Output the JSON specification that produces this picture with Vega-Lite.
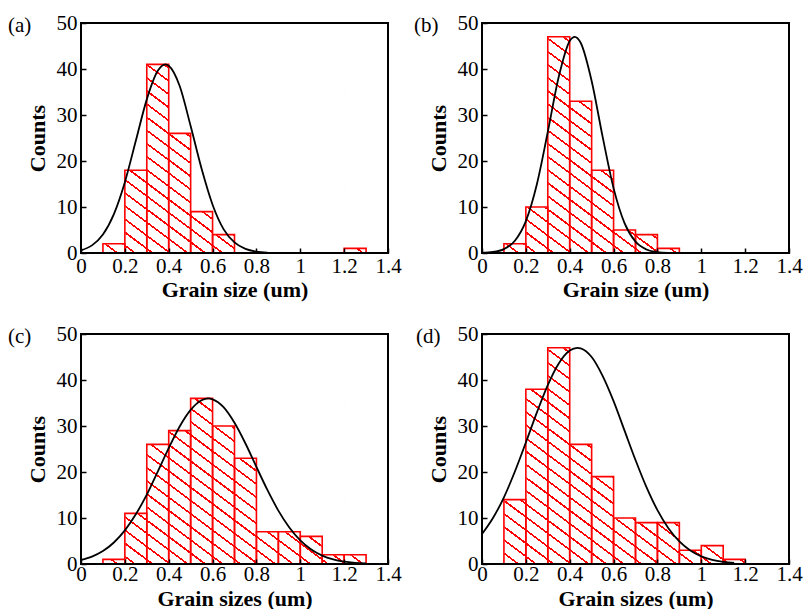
{
  "$schema": "https://vega.github.io/schema/vega-lite/v6.json",
  "background": "white",
  "padding": {"left": 8, "top": 12, "right": 2, "bottom": 0},
  "columns": 2,
  "spacing": {"row": 81, "column": 94},
  "bounds": "flush",
  "datasets": {
    "bins": [
      {"panel": "a", "x0": 0, "x1": 0.1, "count": 0}, {"panel": "a", "x0": 0.1, "x1": 0.2, "count": 2}, {"panel": "a", "x0": 0.2, "x1": 0.3, "count": 18}, {"panel": "a", "x0": 0.3, "x1": 0.4, "count": 41}, {"panel": "a", "x0": 0.4, "x1": 0.5, "count": 26}, {"panel": "a", "x0": 0.5, "x1": 0.6, "count": 9}, {"panel": "a", "x0": 0.6, "x1": 0.7, "count": 4}, {"panel": "a", "x0": 0.7, "x1": 0.8, "count": 0}, {"panel": "a", "x0": 0.8, "x1": 0.9, "count": 0}, {"panel": "a", "x0": 0.9, "x1": 1, "count": 0}, {"panel": "a", "x0": 1, "x1": 1.1, "count": 0}, {"panel": "a", "x0": 1.1, "x1": 1.2, "count": 0}, {"panel": "a", "x0": 1.2, "x1": 1.3, "count": 1}, {"panel": "a", "x0": 1.3, "x1": 1.4, "count": 0},
      {"panel": "b", "x0": 0, "x1": 0.1, "count": 0}, {"panel": "b", "x0": 0.1, "x1": 0.2, "count": 2}, {"panel": "b", "x0": 0.2, "x1": 0.3, "count": 10}, {"panel": "b", "x0": 0.3, "x1": 0.4, "count": 47}, {"panel": "b", "x0": 0.4, "x1": 0.5, "count": 33}, {"panel": "b", "x0": 0.5, "x1": 0.6, "count": 18}, {"panel": "b", "x0": 0.6, "x1": 0.7, "count": 5}, {"panel": "b", "x0": 0.7, "x1": 0.8, "count": 4}, {"panel": "b", "x0": 0.8, "x1": 0.9, "count": 1}, {"panel": "b", "x0": 0.9, "x1": 1, "count": 0}, {"panel": "b", "x0": 1, "x1": 1.1, "count": 0}, {"panel": "b", "x0": 1.1, "x1": 1.2, "count": 0}, {"panel": "b", "x0": 1.2, "x1": 1.3, "count": 0}, {"panel": "b", "x0": 1.3, "x1": 1.4, "count": 0},
      {"panel": "c", "x0": 0, "x1": 0.1, "count": 0}, {"panel": "c", "x0": 0.1, "x1": 0.2, "count": 1}, {"panel": "c", "x0": 0.2, "x1": 0.3, "count": 11}, {"panel": "c", "x0": 0.3, "x1": 0.4, "count": 26}, {"panel": "c", "x0": 0.4, "x1": 0.5, "count": 29}, {"panel": "c", "x0": 0.5, "x1": 0.6, "count": 36}, {"panel": "c", "x0": 0.6, "x1": 0.7, "count": 30}, {"panel": "c", "x0": 0.7, "x1": 0.8, "count": 23}, {"panel": "c", "x0": 0.8, "x1": 0.9, "count": 7}, {"panel": "c", "x0": 0.9, "x1": 1, "count": 7}, {"panel": "c", "x0": 1, "x1": 1.1, "count": 6}, {"panel": "c", "x0": 1.1, "x1": 1.2, "count": 2}, {"panel": "c", "x0": 1.2, "x1": 1.3, "count": 2}, {"panel": "c", "x0": 1.3, "x1": 1.4, "count": 0},
      {"panel": "d", "x0": 0, "x1": 0.1, "count": 0}, {"panel": "d", "x0": 0.1, "x1": 0.2, "count": 14}, {"panel": "d", "x0": 0.2, "x1": 0.3, "count": 38}, {"panel": "d", "x0": 0.3, "x1": 0.4, "count": 47}, {"panel": "d", "x0": 0.4, "x1": 0.5, "count": 26}, {"panel": "d", "x0": 0.5, "x1": 0.6, "count": 19}, {"panel": "d", "x0": 0.6, "x1": 0.7, "count": 10}, {"panel": "d", "x0": 0.7, "x1": 0.8, "count": 9}, {"panel": "d", "x0": 0.8, "x1": 0.9, "count": 9}, {"panel": "d", "x0": 0.9, "x1": 1, "count": 3}, {"panel": "d", "x0": 1, "x1": 1.1, "count": 4}, {"panel": "d", "x0": 1.1, "x1": 1.2, "count": 1}, {"panel": "d", "x0": 1.2, "x1": 1.3, "count": 0}, {"panel": "d", "x0": 1.3, "x1": 1.4, "count": 0}
    ],
    "curves": [
      {"panel": "a", "x": 0, "y": 0.59}, {"panel": "a", "x": 0.05, "y": 1.66}, {"panel": "a", "x": 0.1, "y": 4.03}, {"panel": "a", "x": 0.15, "y": 8.46}, {"panel": "a", "x": 0.2, "y": 15.4}, {"panel": "a", "x": 0.25, "y": 24.4}, {"panel": "a", "x": 0.3, "y": 33.4}, {"panel": "a", "x": 0.35, "y": 39.6}, {"panel": "a", "x": 0.385, "y": 41}, {"panel": "a", "x": 0.4, "y": 40.7}, {"panel": "a", "x": 0.45, "y": 36.3}, {"panel": "a", "x": 0.5, "y": 27.6}, {"panel": "a", "x": 0.55, "y": 18.3}, {"panel": "a", "x": 0.6, "y": 10.5}, {"panel": "a", "x": 0.65, "y": 5.2}, {"panel": "a", "x": 0.7, "y": 2.3}, {"panel": "a", "x": 0.75, "y": 0.9}, {"panel": "a", "x": 0.8, "y": 0.3}, {"panel": "a", "x": 0.85, "y": 0.08},
      {"panel": "b", "x": 0, "y": 0.05}, {"panel": "b", "x": 0.05, "y": 0.22}, {"panel": "b", "x": 0.1, "y": 0.85}, {"panel": "b", "x": 0.15, "y": 2.67}, {"panel": "b", "x": 0.2, "y": 6.94}, {"panel": "b", "x": 0.25, "y": 14.9}, {"panel": "b", "x": 0.3, "y": 26.3}, {"panel": "b", "x": 0.35, "y": 38.3}, {"panel": "b", "x": 0.4, "y": 46.1}, {"panel": "b", "x": 0.423, "y": 47}, {"panel": "b", "x": 0.45, "y": 45.7}, {"panel": "b", "x": 0.5, "y": 37.4}, {"panel": "b", "x": 0.55, "y": 25.3}, {"panel": "b", "x": 0.6, "y": 14.1}, {"panel": "b", "x": 0.65, "y": 6.48}, {"panel": "b", "x": 0.7, "y": 2.46}, {"panel": "b", "x": 0.75, "y": 0.77}, {"panel": "b", "x": 0.8, "y": 0.2}, {"panel": "b", "x": 0.85, "y": 0.04},
      {"panel": "c", "x": 0, "y": 0.88}, {"panel": "c", "x": 0.05, "y": 1.62}, {"panel": "c", "x": 0.1, "y": 2.82}, {"panel": "c", "x": 0.15, "y": 4.67}, {"panel": "c", "x": 0.2, "y": 7.3}, {"panel": "c", "x": 0.25, "y": 10.8}, {"panel": "c", "x": 0.3, "y": 15.1}, {"panel": "c", "x": 0.35, "y": 20.1}, {"panel": "c", "x": 0.4, "y": 25.2}, {"panel": "c", "x": 0.45, "y": 29.9}, {"panel": "c", "x": 0.5, "y": 33.5}, {"panel": "c", "x": 0.55, "y": 35.6}, {"panel": "c", "x": 0.58, "y": 36}, {"panel": "c", "x": 0.6, "y": 35.8}, {"panel": "c", "x": 0.65, "y": 34.1}, {"panel": "c", "x": 0.7, "y": 30.7}, {"panel": "c", "x": 0.75, "y": 26.2}, {"panel": "c", "x": 0.8, "y": 21.1}, {"panel": "c", "x": 0.85, "y": 16.1}, {"panel": "c", "x": 0.9, "y": 11.6}, {"panel": "c", "x": 0.95, "y": 7.93}, {"panel": "c", "x": 1, "y": 5.13}, {"panel": "c", "x": 1.05, "y": 3.14}, {"panel": "c", "x": 1.1, "y": 1.81}, {"panel": "c", "x": 1.15, "y": 0.99}, {"panel": "c", "x": 1.2, "y": 0.51}, {"panel": "c", "x": 1.25, "y": 0.25}, {"panel": "c", "x": 1.3, "y": 0.12},
      {"panel": "d", "x": 0, "y": 6.51}, {"panel": "d", "x": 0.05, "y": 9.99}, {"panel": "d", "x": 0.1, "y": 14.5}, {"panel": "d", "x": 0.15, "y": 20.1}, {"panel": "d", "x": 0.2, "y": 26.4}, {"panel": "d", "x": 0.25, "y": 32.9}, {"panel": "d", "x": 0.3, "y": 38.9}, {"panel": "d", "x": 0.35, "y": 43.6}, {"panel": "d", "x": 0.4, "y": 46.4}, {"panel": "d", "x": 0.435, "y": 47}, {"panel": "d", "x": 0.45, "y": 46.9}, {"panel": "d", "x": 0.5, "y": 45}, {"panel": "d", "x": 0.55, "y": 40.9}, {"panel": "d", "x": 0.6, "y": 35.4}, {"panel": "d", "x": 0.65, "y": 29}, {"panel": "d", "x": 0.7, "y": 22.6}, {"panel": "d", "x": 0.75, "y": 16.7}, {"panel": "d", "x": 0.8, "y": 11.7}, {"panel": "d", "x": 0.85, "y": 7.77}, {"panel": "d", "x": 0.9, "y": 4.91}, {"panel": "d", "x": 0.95, "y": 2.94}, {"panel": "d", "x": 1, "y": 1.67}, {"panel": "d", "x": 1.05, "y": 0.9}, {"panel": "d", "x": 1.1, "y": 0.46}, {"panel": "d", "x": 1.15, "y": 0.23}
    ]
  },
  "concat": [
    {
      "width": 307, "height": 230,
      "title": {"text": "(a)", "dx": -73},
      "layer": [
        {"data": {"values": [{}]}, "mark": {"type": "rect"},
         "encoding": {
           "x": {"datum": 0, "type": "quantitative", "scale": {"domain": [0, 1.4], "nice": false}, "axis": {"title": "Grain size (um)", "zindex": 2, "labelPadding": 7, "titlePadding": 3, "values": [0, 0.1, 0.2, 0.3, 0.4, 0.5, 0.6, 0.7, 0.8, 0.9, 1, 1.1, 1.2, 1.3, 1.4], "labelExpr": "round(datum.value * 10) % 2 === 0 ? '' + datum.value : ''", "tickSize": {"condition": {"test": "round(datum.value * 10) % 2 === 0", "value": -5}, "value": -3}}},
           "x2": {"datum": 1.4},
           "y": {"datum": 0, "type": "quantitative", "scale": {"domain": [0, 50], "nice": false}, "axis": {"title": "Counts", "zindex": 2, "values": [0, 5, 10, 15, 20, 25, 30, 35, 40, 45, 50], "labelExpr": "datum.value % 10 === 0 ? '' + datum.value : ''", "tickSize": {"condition": {"test": "datum.value % 10 === 0", "value": -5}, "value": -3}}},
           "y2": {"datum": 50}
         }},
        {"data": {"name": "bins"}, "transform": [{"filter": "datum.panel === 'a'"}], "mark": {"type": "rect", "fill": "white", "stroke": "white", "strokeWidth": 1},
         "encoding": {"x": {"field": "x0", "type": "quantitative"}, "x2": {"field": "x1"}, "y": {"field": "count", "type": "quantitative"}, "y2": {"datum": 50}}},
        {"data": {"name": "bins"}, "transform": [{"filter": "datum.panel === 'a' && datum.count > 0"}], "mark": {"type": "rect", "fill": "transparent", "stroke": "#ff0000", "strokeWidth": 1.6},
         "encoding": {"x": {"field": "x0", "type": "quantitative"}, "x2": {"field": "x1"}, "y": {"field": "count", "type": "quantitative"}, "y2": {"datum": 0}}},
        {"data": {"name": "curves"}, "transform": [{"filter": "datum.panel === 'a'"}], "mark": {"type": "line", "color": "black", "strokeWidth": 1.8, "interpolate": "monotone"},
         "encoding": {"x": {"field": "x", "type": "quantitative"}, "y": {"field": "y", "type": "quantitative"}}},
        {"data": {"values": [{}]}, "mark": {"type": "rect", "fill": "transparent", "stroke": "black", "strokeWidth": 2},
         "encoding": {"x": {"datum": 0, "type": "quantitative"}, "x2": {"datum": 1.4}, "y": {"datum": 0, "type": "quantitative"}, "y2": {"datum": 50}}}
      ]
    },
    {
      "width": 307, "height": 230,
      "title": {"text": "(b)", "dx": -68},
      "layer": [
        {"data": {"values": [{}]}, "mark": {"type": "rect"},
         "encoding": {
           "x": {"datum": 0, "type": "quantitative", "scale": {"domain": [0, 1.4], "nice": false}, "axis": {"title": "Grain size (um)", "zindex": 2, "labelPadding": 7, "titlePadding": 3, "values": [0, 0.1, 0.2, 0.3, 0.4, 0.5, 0.6, 0.7, 0.8, 0.9, 1, 1.1, 1.2, 1.3, 1.4], "labelExpr": "round(datum.value * 10) % 2 === 0 ? '' + datum.value : ''", "tickSize": {"condition": {"test": "round(datum.value * 10) % 2 === 0", "value": -5}, "value": -3}}},
           "x2": {"datum": 1.4},
           "y": {"datum": 0, "type": "quantitative", "scale": {"domain": [0, 50], "nice": false}, "axis": {"title": "Counts", "zindex": 2, "values": [0, 5, 10, 15, 20, 25, 30, 35, 40, 45, 50], "labelExpr": "datum.value % 10 === 0 ? '' + datum.value : ''", "tickSize": {"condition": {"test": "datum.value % 10 === 0", "value": -5}, "value": -3}}},
           "y2": {"datum": 50}
         }},
        {"data": {"name": "bins"}, "transform": [{"filter": "datum.panel === 'b'"}], "mark": {"type": "rect", "fill": "white", "stroke": "white", "strokeWidth": 1},
         "encoding": {"x": {"field": "x0", "type": "quantitative"}, "x2": {"field": "x1"}, "y": {"field": "count", "type": "quantitative"}, "y2": {"datum": 50}}},
        {"data": {"name": "bins"}, "transform": [{"filter": "datum.panel === 'b' && datum.count > 0"}], "mark": {"type": "rect", "fill": "transparent", "stroke": "#ff0000", "strokeWidth": 1.6},
         "encoding": {"x": {"field": "x0", "type": "quantitative"}, "x2": {"field": "x1"}, "y": {"field": "count", "type": "quantitative"}, "y2": {"datum": 0}}},
        {"data": {"name": "curves"}, "transform": [{"filter": "datum.panel === 'b'"}], "mark": {"type": "line", "color": "black", "strokeWidth": 1.8, "interpolate": "monotone"},
         "encoding": {"x": {"field": "x", "type": "quantitative"}, "y": {"field": "y", "type": "quantitative"}}},
        {"data": {"values": [{}]}, "mark": {"type": "rect", "fill": "transparent", "stroke": "black", "strokeWidth": 2},
         "encoding": {"x": {"datum": 0, "type": "quantitative"}, "x2": {"datum": 1.4}, "y": {"datum": 0, "type": "quantitative"}, "y2": {"datum": 50}}}
      ]
    },
    {
      "width": 307, "height": 230,
      "title": {"text": "(c)", "dx": -73},
      "layer": [
        {"data": {"values": [{}]}, "mark": {"type": "rect"},
         "encoding": {
           "x": {"datum": 0, "type": "quantitative", "scale": {"domain": [0, 1.4], "nice": false}, "axis": {"title": "Grain sizes (um)", "zindex": 2, "labelPadding": 4, "titlePadding": 4, "values": [0, 0.1, 0.2, 0.3, 0.4, 0.5, 0.6, 0.7, 0.8, 0.9, 1, 1.1, 1.2, 1.3, 1.4], "labelExpr": "round(datum.value * 10) % 2 === 0 ? '' + datum.value : ''", "tickSize": {"condition": {"test": "round(datum.value * 10) % 2 === 0", "value": -5}, "value": -3}}},
           "x2": {"datum": 1.4},
           "y": {"datum": 0, "type": "quantitative", "scale": {"domain": [0, 50], "nice": false}, "axis": {"title": "Counts", "zindex": 2, "values": [0, 5, 10, 15, 20, 25, 30, 35, 40, 45, 50], "labelExpr": "datum.value % 10 === 0 ? '' + datum.value : ''", "tickSize": {"condition": {"test": "datum.value % 10 === 0", "value": -5}, "value": -3}}},
           "y2": {"datum": 50}
         }},
        {"data": {"name": "bins"}, "transform": [{"filter": "datum.panel === 'c'"}], "mark": {"type": "rect", "fill": "white", "stroke": "white", "strokeWidth": 1},
         "encoding": {"x": {"field": "x0", "type": "quantitative"}, "x2": {"field": "x1"}, "y": {"field": "count", "type": "quantitative"}, "y2": {"datum": 50}}},
        {"data": {"name": "bins"}, "transform": [{"filter": "datum.panel === 'c' && datum.count > 0"}], "mark": {"type": "rect", "fill": "transparent", "stroke": "#ff0000", "strokeWidth": 1.6},
         "encoding": {"x": {"field": "x0", "type": "quantitative"}, "x2": {"field": "x1"}, "y": {"field": "count", "type": "quantitative"}, "y2": {"datum": 0}}},
        {"data": {"name": "curves"}, "transform": [{"filter": "datum.panel === 'c'"}], "mark": {"type": "line", "color": "black", "strokeWidth": 1.8, "interpolate": "monotone"},
         "encoding": {"x": {"field": "x", "type": "quantitative"}, "y": {"field": "y", "type": "quantitative"}}},
        {"data": {"values": [{}]}, "mark": {"type": "rect", "fill": "transparent", "stroke": "black", "strokeWidth": 2},
         "encoding": {"x": {"datum": 0, "type": "quantitative"}, "x2": {"datum": 1.4}, "y": {"datum": 0, "type": "quantitative"}, "y2": {"datum": 50}}}
      ]
    },
    {
      "width": 307, "height": 230,
      "title": {"text": "(d)", "dx": -66},
      "layer": [
        {"data": {"values": [{}]}, "mark": {"type": "rect"},
         "encoding": {
           "x": {"datum": 0, "type": "quantitative", "scale": {"domain": [0, 1.4], "nice": false}, "axis": {"title": "Grain sizes (um)", "zindex": 2, "labelPadding": 4, "titlePadding": 4, "values": [0, 0.1, 0.2, 0.3, 0.4, 0.5, 0.6, 0.7, 0.8, 0.9, 1, 1.1, 1.2, 1.3, 1.4], "labelExpr": "round(datum.value * 10) % 2 === 0 ? '' + datum.value : ''", "tickSize": {"condition": {"test": "round(datum.value * 10) % 2 === 0", "value": -5}, "value": -3}}},
           "x2": {"datum": 1.4},
           "y": {"datum": 0, "type": "quantitative", "scale": {"domain": [0, 50], "nice": false}, "axis": {"title": "Counts", "zindex": 2, "values": [0, 5, 10, 15, 20, 25, 30, 35, 40, 45, 50], "labelExpr": "datum.value % 10 === 0 ? '' + datum.value : ''", "tickSize": {"condition": {"test": "datum.value % 10 === 0", "value": -5}, "value": -3}}},
           "y2": {"datum": 50}
         }},
        {"data": {"name": "bins"}, "transform": [{"filter": "datum.panel === 'd'"}], "mark": {"type": "rect", "fill": "white", "stroke": "white", "strokeWidth": 1},
         "encoding": {"x": {"field": "x0", "type": "quantitative"}, "x2": {"field": "x1"}, "y": {"field": "count", "type": "quantitative"}, "y2": {"datum": 50}}},
        {"data": {"name": "bins"}, "transform": [{"filter": "datum.panel === 'd' && datum.count > 0"}], "mark": {"type": "rect", "fill": "transparent", "stroke": "#ff0000", "strokeWidth": 1.6},
         "encoding": {"x": {"field": "x0", "type": "quantitative"}, "x2": {"field": "x1"}, "y": {"field": "count", "type": "quantitative"}, "y2": {"datum": 0}}},
        {"data": {"name": "curves"}, "transform": [{"filter": "datum.panel === 'd'"}], "mark": {"type": "line", "color": "black", "strokeWidth": 1.8, "interpolate": "monotone"},
         "encoding": {"x": {"field": "x", "type": "quantitative"}, "y": {"field": "y", "type": "quantitative"}}},
        {"data": {"values": [{}]}, "mark": {"type": "rect", "fill": "transparent", "stroke": "black", "strokeWidth": 2},
         "encoding": {"x": {"datum": 0, "type": "quantitative"}, "x2": {"datum": 1.4}, "y": {"datum": 0, "type": "quantitative"}, "y2": {"datum": 50}}}
      ]
    }
  ],
  "config": {
    "font": "Liberation Serif",
    "view": {"stroke": null},
    "title": {"font": "Liberation Serif", "fontSize": 21, "fontWeight": "normal", "color": "black", "anchor": "start", "frame": "group", "offset": -24, "baseline": "alphabetic"},
    "axis": {
      "domain": false, "grid": false,
      "tickColor": "black", "tickWidth": 1.5,
      "labelFont": "Liberation Serif", "labelFontSize": 21, "labelColor": "black",
      "titleFont": "Liberation Serif", "titleFontSize": 22, "titleFontWeight": "bold", "titleColor": "black"
    },
    "axisX": {"labelFlush": false},
    "axisY": {"labelPadding": 9, "titlePadding": 7},
    "rect": {
      "stroke": null,
      "fill": {"gradient": "linear", "x1": 0, "y1": 1, "x2": 1, "y2": 0, "stops": [
        {"offset": 0, "color": "#ff0000"}, {"offset": 0.0045, "color": "#ff0000"}, {"offset": 0.0045, "color": "#ffffff"},
        {"offset": 0.0286, "color": "#ffffff"}, {"offset": 0.0286, "color": "#ff0000"}, {"offset": 0.0331, "color": "#ff0000"}, {"offset": 0.0331, "color": "#ffffff"},
        {"offset": 0.0571, "color": "#ffffff"}, {"offset": 0.0571, "color": "#ff0000"}, {"offset": 0.0616, "color": "#ff0000"}, {"offset": 0.0616, "color": "#ffffff"},
        {"offset": 0.0857, "color": "#ffffff"}, {"offset": 0.0857, "color": "#ff0000"}, {"offset": 0.0902, "color": "#ff0000"}, {"offset": 0.0902, "color": "#ffffff"},
        {"offset": 0.1143, "color": "#ffffff"}, {"offset": 0.1143, "color": "#ff0000"}, {"offset": 0.1188, "color": "#ff0000"}, {"offset": 0.1188, "color": "#ffffff"},
        {"offset": 0.1429, "color": "#ffffff"}, {"offset": 0.1429, "color": "#ff0000"}, {"offset": 0.1474, "color": "#ff0000"}, {"offset": 0.1474, "color": "#ffffff"},
        {"offset": 0.1714, "color": "#ffffff"}, {"offset": 0.1714, "color": "#ff0000"}, {"offset": 0.1759, "color": "#ff0000"}, {"offset": 0.1759, "color": "#ffffff"},
        {"offset": 0.2, "color": "#ffffff"}, {"offset": 0.2, "color": "#ff0000"}, {"offset": 0.2045, "color": "#ff0000"}, {"offset": 0.2045, "color": "#ffffff"},
        {"offset": 0.2286, "color": "#ffffff"}, {"offset": 0.2286, "color": "#ff0000"}, {"offset": 0.2331, "color": "#ff0000"}, {"offset": 0.2331, "color": "#ffffff"},
        {"offset": 0.2571, "color": "#ffffff"}, {"offset": 0.2571, "color": "#ff0000"}, {"offset": 0.2616, "color": "#ff0000"}, {"offset": 0.2616, "color": "#ffffff"},
        {"offset": 0.2857, "color": "#ffffff"}, {"offset": 0.2857, "color": "#ff0000"}, {"offset": 0.2902, "color": "#ff0000"}, {"offset": 0.2902, "color": "#ffffff"},
        {"offset": 0.3143, "color": "#ffffff"}, {"offset": 0.3143, "color": "#ff0000"}, {"offset": 0.3188, "color": "#ff0000"}, {"offset": 0.3188, "color": "#ffffff"},
        {"offset": 0.3429, "color": "#ffffff"}, {"offset": 0.3429, "color": "#ff0000"}, {"offset": 0.3474, "color": "#ff0000"}, {"offset": 0.3474, "color": "#ffffff"},
        {"offset": 0.3714, "color": "#ffffff"}, {"offset": 0.3714, "color": "#ff0000"}, {"offset": 0.3759, "color": "#ff0000"}, {"offset": 0.3759, "color": "#ffffff"},
        {"offset": 0.4, "color": "#ffffff"}, {"offset": 0.4, "color": "#ff0000"}, {"offset": 0.4045, "color": "#ff0000"}, {"offset": 0.4045, "color": "#ffffff"},
        {"offset": 0.4286, "color": "#ffffff"}, {"offset": 0.4286, "color": "#ff0000"}, {"offset": 0.4331, "color": "#ff0000"}, {"offset": 0.4331, "color": "#ffffff"},
        {"offset": 0.4571, "color": "#ffffff"}, {"offset": 0.4571, "color": "#ff0000"}, {"offset": 0.4616, "color": "#ff0000"}, {"offset": 0.4616, "color": "#ffffff"},
        {"offset": 0.4857, "color": "#ffffff"}, {"offset": 0.4857, "color": "#ff0000"}, {"offset": 0.4902, "color": "#ff0000"}, {"offset": 0.4902, "color": "#ffffff"},
        {"offset": 0.5143, "color": "#ffffff"}, {"offset": 0.5143, "color": "#ff0000"}, {"offset": 0.5188, "color": "#ff0000"}, {"offset": 0.5188, "color": "#ffffff"},
        {"offset": 0.5429, "color": "#ffffff"}, {"offset": 0.5429, "color": "#ff0000"}, {"offset": 0.5474, "color": "#ff0000"}, {"offset": 0.5474, "color": "#ffffff"},
        {"offset": 0.5714, "color": "#ffffff"}, {"offset": 0.5714, "color": "#ff0000"}, {"offset": 0.5759, "color": "#ff0000"}, {"offset": 0.5759, "color": "#ffffff"},
        {"offset": 0.6, "color": "#ffffff"}, {"offset": 0.6, "color": "#ff0000"}, {"offset": 0.6045, "color": "#ff0000"}, {"offset": 0.6045, "color": "#ffffff"},
        {"offset": 0.6286, "color": "#ffffff"}, {"offset": 0.6286, "color": "#ff0000"}, {"offset": 0.6331, "color": "#ff0000"}, {"offset": 0.6331, "color": "#ffffff"},
        {"offset": 0.6571, "color": "#ffffff"}, {"offset": 0.6571, "color": "#ff0000"}, {"offset": 0.6616, "color": "#ff0000"}, {"offset": 0.6616, "color": "#ffffff"},
        {"offset": 0.6857, "color": "#ffffff"}, {"offset": 0.6857, "color": "#ff0000"}, {"offset": 0.6902, "color": "#ff0000"}, {"offset": 0.6902, "color": "#ffffff"},
        {"offset": 0.7143, "color": "#ffffff"}, {"offset": 0.7143, "color": "#ff0000"}, {"offset": 0.7188, "color": "#ff0000"}, {"offset": 0.7188, "color": "#ffffff"},
        {"offset": 0.7429, "color": "#ffffff"}, {"offset": 0.7429, "color": "#ff0000"}, {"offset": 0.7474, "color": "#ff0000"}, {"offset": 0.7474, "color": "#ffffff"},
        {"offset": 0.7714, "color": "#ffffff"}, {"offset": 0.7714, "color": "#ff0000"}, {"offset": 0.7759, "color": "#ff0000"}, {"offset": 0.7759, "color": "#ffffff"},
        {"offset": 0.8, "color": "#ffffff"}, {"offset": 0.8, "color": "#ff0000"}, {"offset": 0.8045, "color": "#ff0000"}, {"offset": 0.8045, "color": "#ffffff"},
        {"offset": 0.8286, "color": "#ffffff"}, {"offset": 0.8286, "color": "#ff0000"}, {"offset": 0.8331, "color": "#ff0000"}, {"offset": 0.8331, "color": "#ffffff"},
        {"offset": 0.8571, "color": "#ffffff"}, {"offset": 0.8571, "color": "#ff0000"}, {"offset": 0.8616, "color": "#ff0000"}, {"offset": 0.8616, "color": "#ffffff"},
        {"offset": 0.8857, "color": "#ffffff"}, {"offset": 0.8857, "color": "#ff0000"}, {"offset": 0.8902, "color": "#ff0000"}, {"offset": 0.8902, "color": "#ffffff"},
        {"offset": 0.9143, "color": "#ffffff"}, {"offset": 0.9143, "color": "#ff0000"}, {"offset": 0.9188, "color": "#ff0000"}, {"offset": 0.9188, "color": "#ffffff"},
        {"offset": 0.9429, "color": "#ffffff"}, {"offset": 0.9429, "color": "#ff0000"}, {"offset": 0.9474, "color": "#ff0000"}, {"offset": 0.9474, "color": "#ffffff"},
        {"offset": 0.9714, "color": "#ffffff"}, {"offset": 0.9714, "color": "#ff0000"}, {"offset": 0.9759, "color": "#ff0000"}, {"offset": 0.9759, "color": "#ffffff"},
        {"offset": 1, "color": "#ffffff"}
      ]}
    }
  }
}
